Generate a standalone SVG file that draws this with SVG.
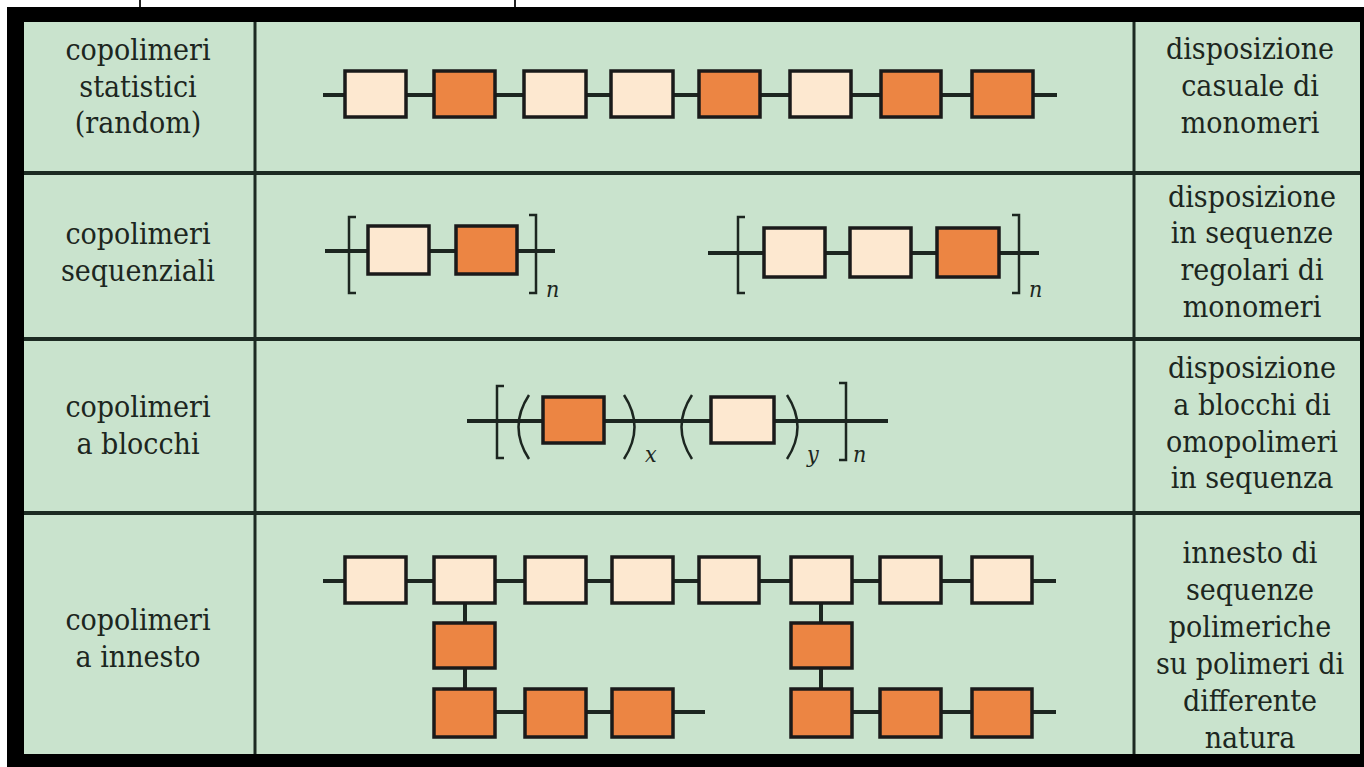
<svg xmlns="http://www.w3.org/2000/svg" width="1364" height="767" viewBox="0 0 1364 767">
<style>
.lbl{font-size:30px;fill:#1c2620;text-anchor:middle}
.sub{font-size:23px;font-style:italic;fill:#1c2620}
.lt{fill:#fde8d0;stroke:#1a1a1a;stroke-width:3.5}
.dk{fill:#ec8543;stroke:#1a1a1a;stroke-width:3.5}
.ln{stroke:#1c2620;stroke-width:4;fill:none}
.br{stroke:#1c2620;stroke-width:2.5;fill:none}
.grid{stroke:#1c2a22;fill:none}
</style>
<rect x="0" y="0" width="1364" height="767" fill="#ffffff"/>
<g id="frame">
<line x1="140" y1="0" x2="140" y2="8" stroke="#222" stroke-width="2"/>
<line x1="515" y1="0" x2="515" y2="8" stroke="#222" stroke-width="2"/>
<rect x="7" y="7" width="1357" height="760" fill="#000"/>
<rect x="24" y="22" width="1336" height="732" fill="#c9e3cd"/>
<line class="grid" x1="255" y1="22" x2="255" y2="754" stroke-width="3"/>
<line class="grid" x1="1134" y1="22" x2="1134" y2="754" stroke-width="3"/>
<line class="grid" x1="24" y1="173" x2="1360" y2="173" stroke-width="4"/>
<line class="grid" x1="24" y1="339" x2="1360" y2="339" stroke-width="4"/>
<line class="grid" x1="24" y1="513" x2="1360" y2="513" stroke-width="4"/>
</g>

<g id="connectors">
<line class="ln" x1="323" y1="95" x2="1057" y2="95"/>
<line class="ln" x1="325" y1="251" x2="555" y2="251"/>
<line class="ln" x1="708" y1="253" x2="1039" y2="253"/>
<line class="ln" x1="467" y1="421" x2="888" y2="421"/>
<line class="ln" x1="323" y1="581" x2="1056" y2="581"/>
<line class="ln" x1="465" y1="603" x2="465" y2="689"/>
<line class="ln" x1="821" y1="603" x2="821" y2="689"/>
<line class="ln" x1="495" y1="712" x2="705" y2="712"/>
<line class="ln" x1="852" y1="712" x2="1056" y2="712"/>
</g>

<g font-family="DejaVu Serif Condensed, DejaVu Serif, serif">
<g id="row-statistici">
<text class="lbl" x="138" y="60">copolimeri</text>
<text class="lbl" x="138" y="97">statistici</text>
<text class="lbl" x="138" y="133">(random)</text>
<text class="lbl" x="1250" y="59">disposizione</text>
<text class="lbl" x="1250" y="96">casuale di</text>
<text class="lbl" x="1250" y="133">monomeri</text>
<g id="chain-random">
<rect class="lt" x="345" y="71" width="61" height="46"/>
<rect class="dk" x="434" y="71" width="61" height="46"/>
<rect class="lt" x="524" y="71" width="62" height="46"/>
<rect class="lt" x="611" y="71" width="62" height="46"/>
<rect class="dk" x="699" y="71" width="61" height="46"/>
<rect class="lt" x="790" y="71" width="61" height="46"/>
<rect class="dk" x="881" y="71" width="60" height="46"/>
<rect class="dk" x="972" y="71" width="61" height="46"/>
</g>
</g>

<g id="row-sequenziali">
<text class="lbl" x="138" y="244">copolimeri</text>
<text class="lbl" x="138" y="281">sequenziali</text>
<text class="lbl" x="1252" y="207">disposizione</text>
<text class="lbl" x="1252" y="243">in sequenze</text>
<text class="lbl" x="1252" y="280">regolari di</text>
<text class="lbl" x="1252" y="317">monomeri</text>
<g id="chain-seq-1">
<path class="br" d="M356,217 H349 V293 H356"/>
<path class="br" d="M529,215 H536 V293 H529"/>
<rect class="lt" x="368" y="226" width="61" height="48"/>
<rect class="dk" x="456" y="226" width="61" height="48"/>
<text class="sub" x="546" y="297">n</text>
</g>
<g id="chain-seq-2">
<path class="br" d="M745,217 H738 V293 H745"/>
<path class="br" d="M1012,215 H1019 V293 H1012"/>
<rect class="lt" x="764" y="228" width="61" height="49"/>
<rect class="lt" x="850" y="228" width="61" height="49"/>
<rect class="dk" x="937" y="228" width="62" height="49"/>
<text class="sub" x="1029" y="297">n</text>
</g>
</g>

<g id="row-blocchi">
<text class="lbl" x="138" y="417">copolimeri</text>
<text class="lbl" x="138" y="454">a blocchi</text>
<text class="lbl" x="1252" y="378">disposizione</text>
<text class="lbl" x="1252" y="415">a blocchi di</text>
<text class="lbl" x="1252" y="452">omopolimeri</text>
<text class="lbl" x="1252" y="488">in sequenza</text>
<g id="chain-blocchi">
<path class="br" d="M504,386 H497 V458 H504"/>
<path class="br" d="M839,383 H846 V460 H839"/>
<path class="br" d="M529,395 Q508,427 529,459"/>
<path class="br" d="M624,395 Q645,427 624,459"/>
<path class="br" d="M692,395 Q671,427 692,459"/>
<path class="br" d="M787,395 Q808,427 787,459"/>
<rect class="dk" x="543" y="397" width="61" height="46"/>
<rect class="lt" x="711" y="397" width="63" height="46"/>
<text class="sub" x="645" y="462">x</text>
<text class="sub" x="807" y="462">y</text>
<text class="sub" x="853" y="462">n</text>
</g>
</g>

<g id="row-innesto">
<text class="lbl" x="138" y="630">copolimeri</text>
<text class="lbl" x="138" y="667">a innesto</text>
<text class="lbl" x="1250" y="563">innesto di</text>
<text class="lbl" x="1250" y="600">sequenze</text>
<text class="lbl" x="1250" y="637">polimeriche</text>
<text class="lbl" x="1250" y="674">su polimeri di</text>
<text class="lbl" x="1250" y="711">differente</text>
<text class="lbl" x="1250" y="748">natura</text>
<g id="backbone">
<rect class="lt" x="345" y="557" width="61" height="46"/>
<rect class="lt" x="434" y="557" width="61" height="46"/>
<rect class="lt" x="525" y="557" width="61" height="46"/>
<rect class="lt" x="612" y="557" width="61" height="46"/>
<rect class="lt" x="699" y="557" width="60" height="46"/>
<rect class="lt" x="791" y="557" width="61" height="46"/>
<rect class="lt" x="880" y="557" width="61" height="46"/>
<rect class="lt" x="972" y="557" width="60" height="46"/>
</g>
<g id="graft-1">
<rect class="dk" x="434" y="623" width="61" height="45"/>
<rect class="dk" x="434" y="689" width="61" height="48"/>
<rect class="dk" x="525" y="689" width="61" height="48"/>
<rect class="dk" x="612" y="689" width="61" height="48"/>
</g>
<g id="graft-2">
<rect class="dk" x="791" y="623" width="61" height="45"/>
<rect class="dk" x="791" y="689" width="61" height="48"/>
<rect class="dk" x="880" y="689" width="61" height="48"/>
<rect class="dk" x="972" y="689" width="60" height="48"/>
</g>
</g>
</g>
</svg>
